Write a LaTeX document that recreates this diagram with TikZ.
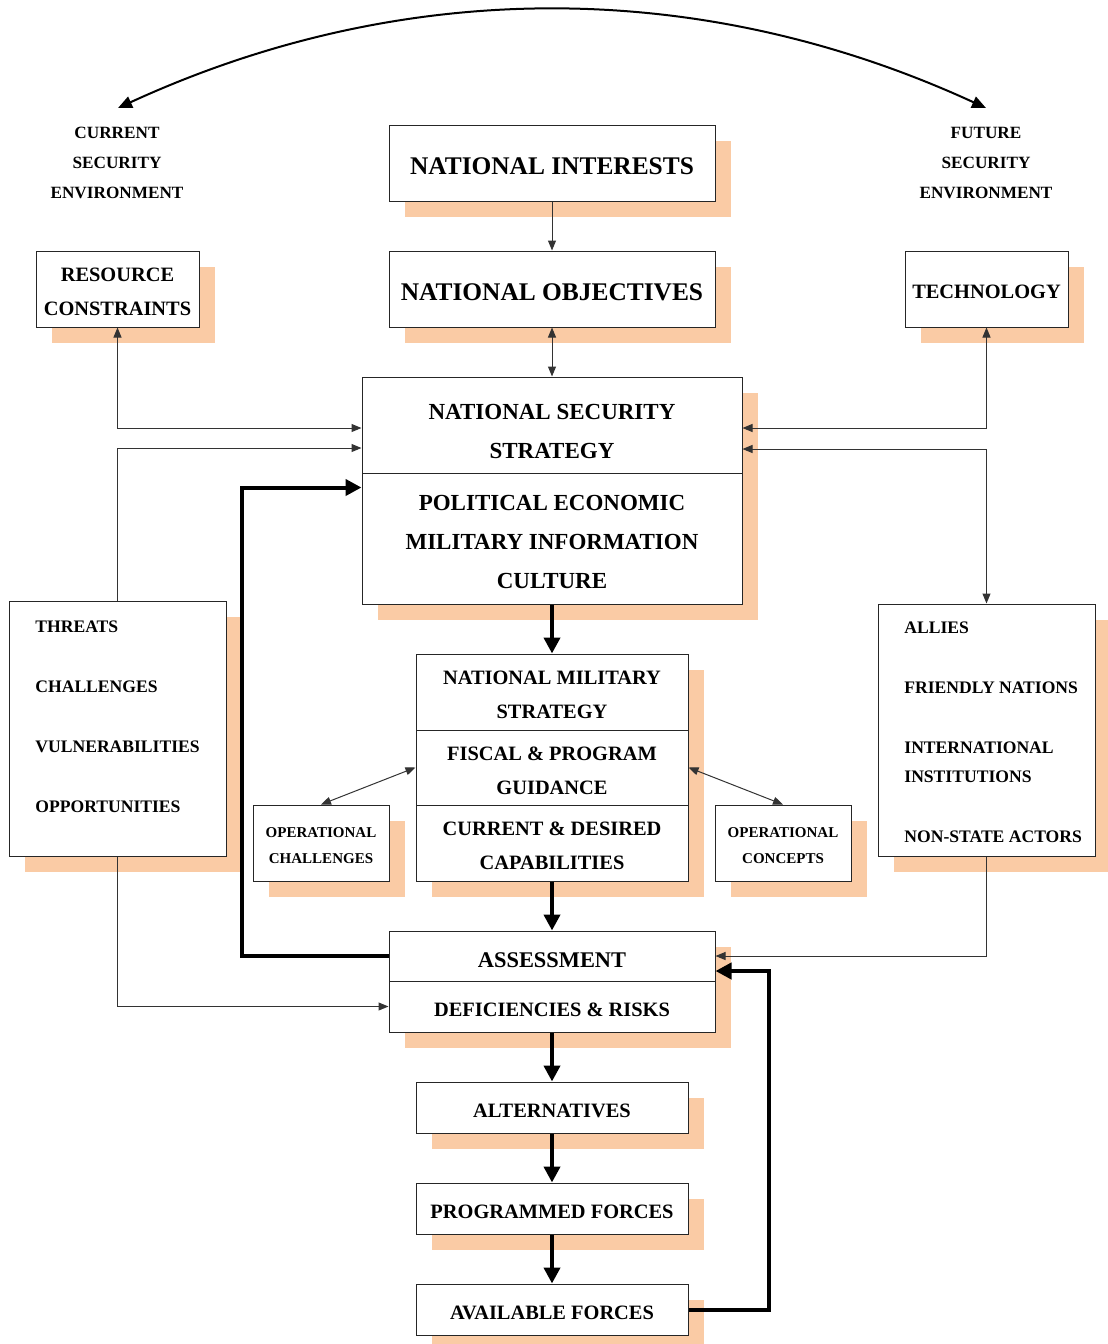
\documentclass[tikz,border=0pt]{standalone}
\usepackage{fontspec}
\setmainfont{Liberation Serif}
\usetikzlibrary{arrows.meta,shadows}
\definecolor{peach}{RGB}{250,203,165}

\begin{document}
\begin{tikzpicture}[x=0.5pt,y=-0.5pt,
  box/.style={draw=black!85, fill=white, line width=0.5pt, inner sep=0pt, align=center,
    drop shadow={shadow xshift=8pt,shadow yshift=-8pt,fill=peach,opacity=1}},
  thintip/.tip={Triangle[length=5pt,width=4pt]},
  boldtip/.tip={Triangle[length=8pt,width=8pt]},
  arctip/.tip={Triangle[length=7pt,width=6pt]},
  link/.style={draw=black!80,line width=0.5pt,-thintip},
  linkboth/.style={draw=black!80,line width=0.5pt,thintip-thintip},
  flow/.style={line width=2pt,-boldtip},
  fontL/.style={font=\fontsize{12.7}{14}\selectfont\bfseries,text height=11.3pt},
  fontM/.style={font=\fontsize{11.5}{19.5}\selectfont\bfseries},
  fontS/.style={font=\fontsize{10.2}{17}\selectfont\bfseries,text height=9.7pt},
  fontSS/.style={font=\fontsize{10.2}{17}\selectfont\bfseries,text height=26.7pt},
  fontT/.style={font=\fontsize{8.8}{30}\selectfont\bfseries},
  fontC/.style={font=\fontsize{8.6}{15}\selectfont\bfseries},
  fontOp/.style={font=\fontsize{7.5}{13}\selectfont\bfseries,text height=20.9pt}]
\useasboundingbox (0,0) rectangle (1108,1344);

% top row
\node[box,fontL,minimum width=163pt,minimum height=38pt] (ni) at (552,163) {NATIONAL INTERESTS};
\node[box,fontL,minimum width=163pt,minimum height=38pt] (no) at (552,289) {NATIONAL OBJECTIVES};
\node[box,fontSS,minimum width=81.5pt,minimum height=38pt] (rc) at (117.5,289) {RESOURCE\\CONSTRAINTS};
\node[box,fontS,minimum width=81.5pt,minimum height=38pt] (tech) at (986.5,289) {TECHNOLOGY};
\node[fontC,align=center,inner sep=0pt] (cur) at (117,163) {CURRENT\\SECURITY\\ENVIRONMENT};
\node[fontC,align=center,inner sep=0pt] (fut) at (986,163) {FUTURE\\SECURITY\\ENVIRONMENT};
\coordinate (arcl) at (118,108);
\coordinate (arcr) at (986,108);

% strategy
\node[box,fontM,text height=34pt,minimum width=190pt,minimum height=48pt] (nssa) at (552,425) {NATIONAL SECURITY\\STRATEGY};
\node[box,fontM,text height=50.5pt,minimum width=190pt,minimum height=65.5pt] (nssb) at (552,538.5) {POLITICAL ECONOMIC\\MILITARY INFORMATION\\CULTURE};

\node[box,minimum width=108.5pt,minimum height=127.5pt] (thr) at (117.5,728.5) {};
\node[fontT,align=left,anchor=west,inner sep=0pt] (thrtxt) at (35,717) {THREATS\\CHALLENGES\\VULNERABILITIES\\OPPORTUNITIES};
\node[box,minimum width=108.5pt,minimum height=126pt] (all) at (986.5,730) {};
\node[align=left,anchor=west,inner sep=0pt,font=\fontsize{8.8}{14.5}\selectfont\bfseries] (alltxt) at (904,732)
  {ALLIES\\[15.5pt]FRIENDLY NATIONS\\[15.5pt]INTERNATIONAL\\INSTITUTIONS\\[15.5pt]NON-STATE ACTORS};

% military strategy
\node[box,fontSS,minimum width=136pt,minimum height=38pt] (nmsa) at (552,692) {NATIONAL MILITARY\\STRATEGY};
\node[box,fontSS,minimum width=136pt,minimum height=37.5pt] (nmsb) at (552,767.5) {FISCAL \& PROGRAM\\GUIDANCE};
\node[box,fontSS,minimum width=136pt,minimum height=38pt] (nmsc) at (552,843) {CURRENT \& DESIRED\\CAPABILITIES};
\node[box,fontOp,minimum width=68pt,minimum height=38pt] (och) at (321,843) {OPERATIONAL\\CHALLENGES};
\node[box,fontOp,minimum width=68pt,minimum height=38pt] (ocn) at (783,843) {OPERATIONAL\\CONCEPTS};

% assessment and forces
\node[box,font=\fontsize{11.2}{14}\selectfont\bfseries,text height=11.3pt,minimum width=163pt,minimum height=25pt] (asa) at (552,956) {ASSESSMENT};
\node[box,fontS,minimum width=163pt,minimum height=25.5pt] (asb) at (552,1006.5) {DEFICIENCIES \& RISKS};
\node[box,fontS,minimum width=136pt,minimum height=25.5pt] (alt) at (552,1107.5) {ALTERNATIVES};
\node[box,fontS,minimum width=136pt,minimum height=25.5pt] (pf) at (552,1208.5) {PROGRAMMED FORCES};
\node[box,fontS,minimum width=136pt,minimum height=25.5pt] (af) at (552,1309.5) {AVAILABLE FORCES};
\coordinate (fbl) at (242,956);
\coordinate (fbr) at (769,1309.5);

% connectors
\draw[line width=1pt,arctip-arctip] (arcl) .. controls (403,-23) and (701,-23) .. (arcr);
\draw[link] (ni) -- (no);
\draw[linkboth] (no) -- (nssa);
\draw[linkboth] (rc.south) |- ([yshift=-1.5pt]nssa.west);
\draw[link] (thr.north) |- ([yshift=-11.5pt]nssa.west);
\draw[linkboth] (tech.south) |- ([yshift=-1.5pt]nssa.east);
\draw[linkboth] ([yshift=-12pt]nssa.east) -| (all.north);
\draw[flow] (nssb) -- (nmsa);
\draw[linkboth] (och.north) -- (nmsb.west);
\draw[linkboth] (ocn.north) -- (nmsb.east);
\draw[flow] (nmsc) -- (asa);
\draw[flow] (asa.west) -- (fbl) |- ([yshift=-7.5pt]nssb.north west);
\draw[link] (thr.south) |- (asb.west);
\draw[link] (all.south) |- (asa.east);
\draw[flow] (asb) -- (alt);
\draw[flow] (alt) -- (pf);
\draw[flow] (pf) -- (af);
\draw[flow] (af.east) -- (fbr) |- ([yshift=-7.5pt]asa.east);

\end{tikzpicture}
\end{document}
